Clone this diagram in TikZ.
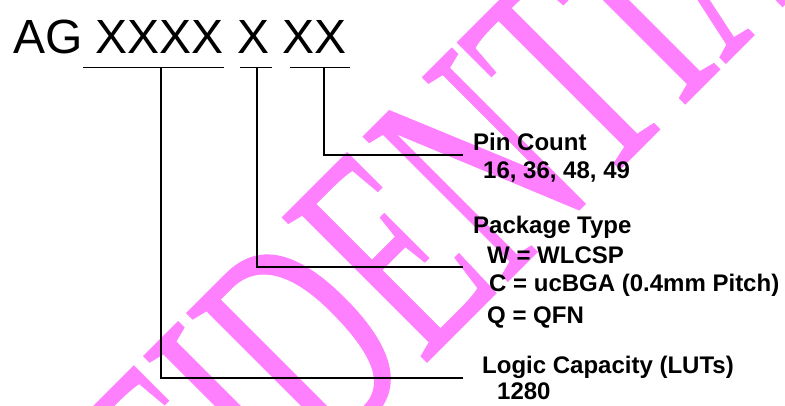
\documentclass[tikz,border=0pt]{standalone}
\usepackage{fontspec}
\setmainfont{Liberation Sans}
\newfontfamily\wmfont[FakeBold=0.4]{Liberation Serif}
\definecolor{wmpink}{RGB}{255,128,255}
\tikzset{
  bar/.style={line width=1pt},
  lead/.style={line width=1.2pt},
  lbl/.style={anchor=base west, inner sep=0pt, font=\fontsize{24}{24}\selectfont\bfseries},
}
\begin{document}
\begin{tikzpicture}[x=1pt, y=-1pt]
  \useasboundingbox (0,0) rectangle (785,405);
  \clip (0,0) rectangle (785,405);

  % watermark
  \node[anchor=base west, inner sep=0pt, rotate=45, text=wmpink,
        font=\fontsize{312}{312}\selectfont\wmfont] (stamp) at (-69.8,858.8)
        {\scalebox{0.6}[1]{CONFIDENTIAL}};

  % part number
  \node[anchor=base west, inner sep=0pt, font=\fontsize{48}{48}\selectfont] (title) at (13,53) {AG XXXX X XX};

  % underlines
  \coordinate (lutl) at (83,67);  \coordinate (lutr) at (224,67);
  \coordinate (pkgl) at (240,67); \coordinate (pkgr) at (272,67);
  \coordinate (pinl) at (290,67); \coordinate (pinr) at (350,67);
  \draw[bar] (lutl) -- (lutr);
  \draw[bar] (pkgl) -- (pkgr);
  \draw[bar] (pinl) -- (pinr);

  % leads
  \coordinate (lutbar) at (161,67); \coordinate (lutend) at (463,378);
  \coordinate (pkgbar) at (257,67); \coordinate (pkgend) at (463,267);
  \coordinate (pinbar) at (324,67); \coordinate (pinend) at (463,155);
  \draw[lead] (pinbar) |- (pinend);
  \draw[lead] (pkgbar) |- (pkgend);
  \draw[lead] (lutbar) |- (lutend);

  % labels
  \node[lbl] (pin) at (473,150) {Pin Count};
    \node[lbl] (pinval) at (483,178) {16, 36, 48, 49};
  \node[lbl] (pkg) at (473,233) {Package Type};
    \node[lbl] (pkgw) at (487,263) {W = WLCSP};
    \node[lbl] (pkgc) at (489,291) {C = ucBGA (0.4mm Pitch)};
    \node[lbl] (pkgq) at (487,323) {Q = QFN};
  \node[lbl] (lut) at (482,373) {Logic Capacity (LUTs)};
    \node[lbl] (lutval) at (497,399) {1280};
\end{tikzpicture}
\end{document}
